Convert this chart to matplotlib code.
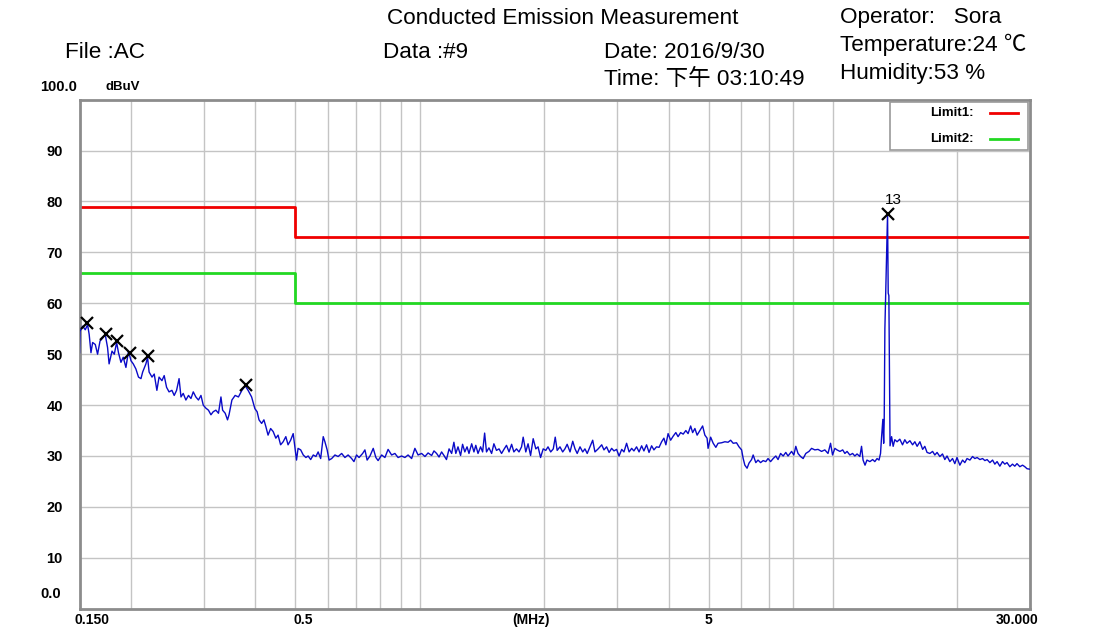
import numpy as np
import matplotlib
matplotlib.use('Agg')
import matplotlib.pyplot as plt
import matplotlib.transforms as mtransforms
from matplotlib.patches import Rectangle

# ------------------------------ Data ------------------------------------------
# measured trace, (MHz, dBuV) read off the scan
trace = [
    (0.150, 50.3), (0.1504, 54.5), (0.1527, 55.5), (0.1549, 54.8), (0.1569, 55.8),
    (0.1583, 53.9), (0.1599, 50.3), (0.1614, 52.3), (0.1638, 51.9), (0.1659, 50.0),
    (0.1682, 52.6), (0.1707, 53.2), (0.1731, 53.9), (0.1754, 51.3), (0.1769, 48.1),
    (0.1798, 50.6), (0.1821, 50.0), (0.1845, 52.3), (0.1864, 50.3), (0.1890, 48.4),
    (0.1914, 49.4), (0.1943, 47.4), (0.1971, 50.6), (0.1999, 48.7), (0.2024, 48.1),
    (0.2054, 47.1), (0.2084, 45.5), (0.2113, 45.2), (0.2133, 46.5), (0.2172, 48.1),
    (0.2192, 49.4), (0.2211, 46.5), (0.2247, 45.5), (0.2275, 46.1), (0.2309, 42.9),
    (0.2337, 45.5), (0.2375, 44.8), (0.2405, 45.8), (0.2437, 43.5), (0.2471, 42.6),
    (0.2511, 42.9), (0.2543, 41.9), (0.2577, 42.9), (0.2613, 45.2), (0.2641, 41.6),
    (0.2674, 42.3), (0.2714, 41.0), (0.2754, 41.9), (0.2792, 41.3), (0.2828, 42.6),
    (0.2869, 41.6), (0.2911, 41.0), (0.2952, 41.9), (0.2990, 40.0), (0.3034, 39.4),
    (0.3078, 39.0), (0.3121, 38.1), (0.3161, 38.7), (0.3208, 39.0), (0.3255, 38.4),
    (0.3300, 41.6), (0.3331, 39.0), (0.3379, 38.4), (0.3423, 37.1), (0.3452, 38.1),
    (0.3508, 41.0), (0.3572, 41.9), (0.3638, 41.6), (0.3709, 42.9), (0.3777, 43.8),
    (0.3839, 42.9), (0.3915, 41.6), (0.3987, 39.3), (0.4037, 38.7), (0.4080, 37.1),
    (0.4140, 36.4), (0.4193, 37.1), (0.4238, 35.8), (0.4291, 34.1), (0.4353, 35.4),
    (0.4415, 34.8), (0.4481, 33.5), (0.4537, 34.1), (0.4602, 32.2), (0.4668, 32.8),
    (0.4738, 33.8), (0.4797, 32.2), (0.4866, 33.1), (0.4936, 34.4), (0.4982, 31.8),
    (0.5029, 29.2), (0.5072, 31.5), (0.5147, 31.2), (0.5221, 30.2), (0.5299, 29.7),
    (0.5365, 30.0), (0.5442, 29.3), (0.5521, 30.2), (0.5603, 29.9), (0.5673, 30.8),
    (0.5753, 29.5), (0.5836, 33.8), (0.5891, 32.8), (0.5965, 31.2), (0.6029, 29.2),
    (0.6118, 29.5), (0.6230, 30.2), (0.6341, 29.9), (0.6468, 30.5), (0.6586, 29.7),
    (0.6704, 30.2), (0.6838, 29.5), (0.6926, 28.9), (0.7028, 30.2), (0.7126, 29.7),
    (0.7270, 30.5), (0.7363, 31.2), (0.7454, 29.2), (0.7573, 30.0), (0.7712, 31.5),
    (0.7827, 29.7), (0.7924, 29.1), (0.8083, 30.2), (0.8231, 29.7), (0.8378, 31.3),
    (0.8545, 30.2), (0.8702, 30.5), (0.8858, 29.7), (0.9035, 30.0), (0.9201, 29.7),
    (0.9365, 30.2), (0.9553, 29.5), (0.9728, 31.5), (0.9902, 30.2), (1.010, 30.5),
    (1.029, 29.9), (1.047, 30.6), (1.068, 30.1), (1.082, 31.0), (1.098, 30.5),
    (1.113, 29.8), (1.129, 30.8), (1.144, 30.1), (1.160, 29.3), (1.177, 31.4),
    (1.194, 30.5), (1.209, 32.7), (1.222, 30.5), (1.237, 31.8), (1.255, 30.1),
    (1.269, 32.3), (1.285, 30.8), (1.301, 31.8), (1.315, 30.5), (1.335, 32.4),
    (1.352, 30.8), (1.366, 32.1), (1.383, 30.5), (1.403, 31.8), (1.419, 30.8),
    (1.435, 34.5), (1.450, 30.8), (1.470, 31.6), (1.492, 30.5), (1.511, 32.4),
    (1.533, 31.1), (1.555, 31.4), (1.577, 30.5), (1.598, 31.3), (1.621, 32.1),
    (1.644, 30.8), (1.668, 32.3), (1.689, 30.8), (1.714, 31.4), (1.738, 30.8),
    (1.763, 31.8), (1.779, 33.7), (1.805, 30.8), (1.828, 32.4), (1.854, 30.1),
    (1.881, 33.4), (1.909, 31.4), (1.933, 31.8), (1.960, 29.7), (1.989, 31.4),
    (2.018, 31.1), (2.043, 31.8), (2.074, 30.8), (2.104, 31.4), (2.127, 33.7),
    (2.150, 31.1), (2.184, 31.8), (2.217, 30.8), (2.245, 31.4), (2.273, 32.3),
    (2.310, 30.8), (2.345, 32.9), (2.375, 31.4), (2.404, 30.5), (2.442, 31.8),
    (2.479, 30.8), (2.510, 31.4), (2.542, 30.5), (2.582, 31.8), (2.621, 33.1),
    (2.654, 30.8), (2.702, 31.4), (2.756, 32.2), (2.791, 31.2), (2.832, 31.8),
    (2.872, 30.7), (2.913, 31.5), (2.951, 31.0), (2.994, 31.3), (3.036, 30.0),
    (3.081, 31.3), (3.120, 30.8), (3.166, 32.5), (3.211, 30.8), (3.257, 31.5),
    (3.298, 31.0), (3.347, 31.8), (3.394, 30.8), (3.443, 32.0), (3.487, 31.0),
    (3.539, 32.2), (3.588, 30.7), (3.640, 32.0), (3.687, 31.2), (3.741, 31.8),
    (3.794, 31.7), (3.849, 32.8), (3.898, 33.5), (3.941, 32.2), (3.990, 34.4),
    (4.047, 33.1), (4.105, 33.9), (4.166, 34.6), (4.218, 33.8), (4.279, 34.6),
    (4.340, 34.3), (4.405, 35.0), (4.460, 34.4), (4.525, 35.9), (4.575, 34.6),
    (4.633, 35.4), (4.691, 34.1), (4.765, 35.0), (4.837, 35.9), (4.898, 34.1),
    (4.959, 33.5), (4.986, 31.5), (5.058, 33.7), (5.131, 32.5), (5.207, 31.7),
    (5.272, 32.5), (5.378, 32.6), (5.476, 32.8), (5.574, 32.7), (5.654, 33.1),
    (5.736, 32.5), (5.843, 32.6), (5.925, 31.8), (6.011, 31.2), (6.064, 29.5),
    (6.121, 28.2), (6.197, 27.6), (6.264, 28.6), (6.355, 29.3), (6.411, 30.2),
    (6.506, 28.7), (6.587, 29.2), (6.682, 28.7), (6.778, 29.1), (6.879, 28.9),
    (6.965, 29.5), (7.065, 28.9), (7.167, 29.5), (7.274, 30.0), (7.365, 29.3),
    (7.470, 30.5), (7.578, 30.0), (7.690, 30.7), (7.786, 30.0), (7.942, 30.9),
    (8.043, 30.2), (8.131, 31.9), (8.232, 30.5), (8.350, 29.9), (8.471, 29.5),
    (8.597, 30.5), (8.750, 30.9), (8.879, 31.5), (9.041, 31.2), (9.203, 31.3),
    (9.387, 30.9), (9.559, 31.2), (9.730, 30.5), (9.869, 32.5), (9.979, 30.2),
    (10.11, 31.5), (10.23, 31.2), (10.40, 30.9), (10.56, 31.2), (10.69, 30.5),
    (10.82, 30.9), (10.99, 30.2), (11.16, 30.5), (11.30, 30.0), (11.44, 30.4),
    (11.62, 29.9), (11.73, 31.9), (11.83, 29.2), (11.96, 28.2), (12.09, 29.2),
    (12.29, 28.9), (12.48, 29.3), (12.63, 28.9), (12.79, 29.5), (12.93, 29.2),
    (13.04, 30.5), (13.11, 33.5), (13.21, 37.2), (13.27, 32.5), (13.31, 37.0),
    (13.36, 55.0), (13.42, 62.0), (13.56, 77.6), (13.61, 62.0), (13.66, 61.5),
    (13.70, 47.0), (13.75, 32.0), (13.87, 33.8), (13.99, 31.9), (14.12, 33.2),
    (14.30, 32.8), (14.52, 33.3), (14.74, 32.2), (14.93, 33.2), (15.11, 32.5),
    (15.36, 33.0), (15.59, 32.2), (15.79, 32.8), (15.99, 31.9), (16.24, 32.8),
    (16.49, 31.3), (16.69, 31.9), (16.90, 30.7), (17.17, 30.5), (17.43, 30.9),
    (17.65, 30.2), (17.87, 30.7), (18.15, 29.9), (18.42, 30.4), (18.66, 29.3),
    (18.89, 30.0), (19.19, 28.9), (19.48, 29.5), (19.73, 28.5), (19.97, 29.7),
    (20.29, 28.2), (20.60, 29.2), (20.86, 28.7), (21.12, 29.5), (21.46, 29.2),
    (21.78, 29.9), (22.06, 29.5), (22.34, 29.7), (22.69, 29.3), (23.03, 29.5),
    (23.33, 29.1), (23.62, 29.3), (23.99, 28.7), (24.35, 29.2), (24.66, 28.4),
    (24.97, 28.9), (25.36, 28.0), (25.74, 28.9), (26.07, 28.4), (26.39, 28.7),
    (26.81, 27.9), (27.21, 28.4), (27.56, 28.0), (27.90, 28.5), (28.35, 27.9),
    (28.78, 28.2), (29.14, 27.9), (29.51, 27.5), (30.00, 27.4),
]

# limit lines (step at 0.5 MHz)
limit_mhz = [0.15, 0.5, 0.5, 30.0]
limit1 = [79, 79, 73, 73]
limit2 = [66, 66, 60, 60]
limit_names = ['Limit1:', 'Limit2:']
limit_colors = ['#f00000', '#22d822']

# peak markers
peak_mhz = [0.1567, 0.1738, 0.1850, 0.1987, 0.2192, 0.3791, 13.56]
peak_dbuv = [56.1, 53.9, 52.5, 50.3, 49.7, 43.9, 77.6]
peak_labels = ['', '', '', '', '', '', '13']

grid_mhz = [0.2, 0.3, 0.4, 0.5, 0.6, 0.7, 0.8, 0.9, 1, 2, 3, 4, 5, 6, 7, 8, 10, 20]
ytick_vals = [10, 20, 30, 40, 50, 60, 70, 80, 90]
# x labels: text, where it sits (MHz)
xlabel_txt = ['0.150', '0.5', '(MHz)', '5', '30.000']
xlabel_pos = [0.1607, 0.5213, 1.86, 5.0, 27.9]

# ------------------------------ Figure ----------------------------------------
plt.rcParams['font.family'] = ['Liberation Sans', 'Noto Sans CJK SC', 'DejaVu Sans']

fig = plt.figure(figsize=(11.13, 6.30), dpi=100)
ax = fig.add_axes([0.07143, 0.03381, 0.85400, 0.80794])

freq, level = np.array(trace).T

ax.set_xscale('log')
ax.set_xlim(0.15, 30)
ax.set_ylim(0, 100)

# grid
for f in grid_mhz:
    ax.axvline(f, color='#c4c4c4', lw=1, zorder=0)
for v in range(10, 100, 10):
    ax.axhline(v, color='#c4c4c4', lw=1, zorder=0)

ax.plot(limit_mhz, limit1, color=limit_colors[0], lw=2, zorder=2)
ax.plot(limit_mhz, limit2, color=limit_colors[1], lw=2, zorder=2)
ax.plot(freq, level, color='#0a0ac8', lw=1, zorder=3)
ax.plot(peak_mhz, peak_dbuv, linestyle='none', marker='x', color='k',
        markersize=8, markeredgewidth=1.6, zorder=4)
for f, v, lab in zip(peak_mhz, peak_dbuv, peak_labels):
    if lab:
        ax.annotate(lab, (f, v), xytext=(4, 5), textcoords='offset points',
                    ha='center', va='bottom', fontsize=11)

# axes cosmetics
ax.set_xticks([])
ax.set_xticks([], minor=True)
ax.set_yticks(ytick_vals)
ax.set_yticklabels([str(v) for v in ytick_vals], fontsize=10.5, fontweight='bold')
ax.tick_params(axis='y', length=0, pad=12)
for sp in ax.spines.values():
    sp.set_color('#8c8c8c')
    sp.set_linewidth(2)

trans = mtransforms.blended_transform_factory(ax.transData, fig.transFigure)
for txt, pos in zip(xlabel_txt, xlabel_pos):
    ax.text(pos, 1 - 620 / 630, txt, transform=trans, ha='center', va='center',
            fontsize=10, fontweight='bold')

fig.text(40 / 1113, 1 - 594 / 630, '0.0', ha='left', va='center', fontsize=10.5, fontweight='bold')
fig.text(40 / 1113, 1 - 87 / 630, '100.0', ha='left', va='center', fontsize=10.5, fontweight='bold')
fig.text(105 / 1113, 1 - 87 / 630, 'dBuV', ha='left', va='center', fontsize=9.5, fontweight='bold')

# legend box: label on the left, line sample on the right
ax.add_patch(Rectangle((0.8527, 0.9012), 0.1452, 0.0943, transform=ax.transAxes,
                       facecolor='white', edgecolor='#9a9a9a', lw=1.2, zorder=5))
for k, (name, col) in enumerate(zip(limit_names, limit_colors)):
    yy = 0.9739 - k * 0.0511
    ax.text(0.8948, yy, name, transform=ax.transAxes, ha='left', va='center',
            fontsize=9.5, fontweight='bold', zorder=6)
    ax.plot([0.9579, 0.9874], [yy, yy], transform=ax.transAxes, color=col, lw=2, zorder=6)

# header
hdr = dict(fontsize=16.2, va='center', ha='left')
fig.text(387 / 1113, 1 - 19 / 630, 'Conducted Emission Measurement', **hdr)
fig.text(65 / 1113, 1 - 53 / 630, 'File :AC', **hdr)
fig.text(383 / 1113, 1 - 53 / 630, 'Data :#9', **hdr)
fig.text(604 / 1113, 1 - 53 / 630, 'Date: 2016/9/30', **hdr)
fig.text(604 / 1113, 1 - 79 / 630, 'Time: 下午 03:10:49', **hdr)
fig.text(840 / 1113, 1 - 17 / 630, 'Operator:   Sora', **hdr)
fig.text(840 / 1113, 1 - 45 / 630, 'Temperature:24 ℃', **hdr)
fig.text(840 / 1113, 1 - 73 / 630, 'Humidity:53 %', **hdr)

fig.savefig('out.png', dpi=100)
